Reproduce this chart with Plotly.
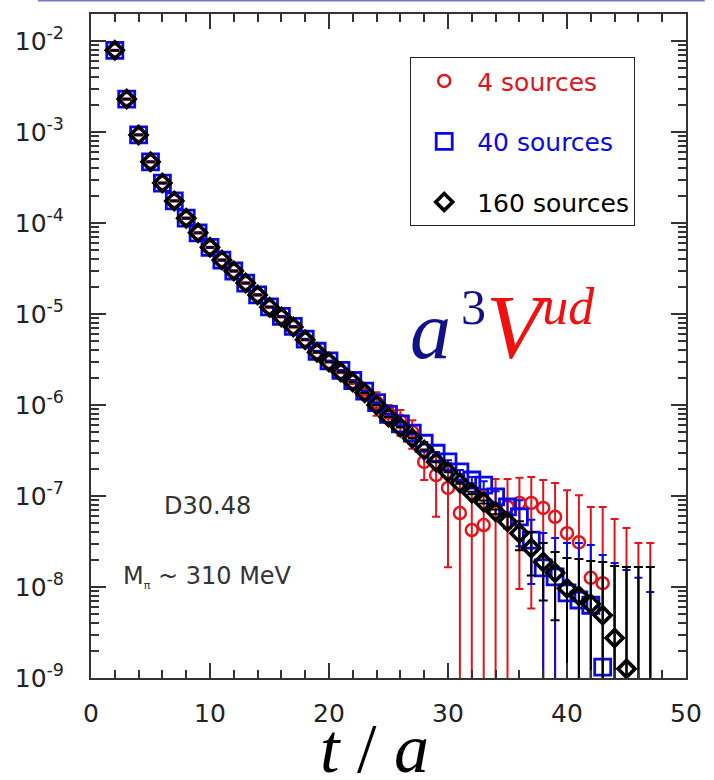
import plotly.graph_objects as go

# ---------------- data ----------------
t_vals = list(range(2, 48))

black_y = [7.9e-3, 2.3e-3, 9.3e-4, 4.7e-4, 2.75e-4, 1.75e-4, 1.13e-4, 7.8e-5, 5.4e-5,
           3.92e-5, 2.97e-5, 2.19e-5, 1.62e-5, 1.19e-5, 9.3e-6, 7.2e-6, 5.2e-6, 3.8e-6,
           2.97e-6, 2.31e-6, 1.79e-6, 1.36e-6, 1.0e-6, 7.4e-7, 5.7e-7, 4.3e-7, 3.2e-7,
           2.36e-7, 1.84e-7, 1.39e-7, 1.08e-7, 8.6e-8, 6.7e-8, 5.2e-8, 3.9e-8, 2.68e-8,
           1.88e-8, 1.43e-8, 9.7e-9, 8.0e-9, 6.5e-9, 4.9e-9, 2.75e-9, 1.26e-9, 5e-10, 5e-10]
black_err = [4e-5, 1.2e-5, 4.6e-6, 2.4e-6, 1.4e-6, 9e-7, 6e-7, 4e-7, 2.7e-7,
             2e-7, 1.5e-7, 1.1e-7, 8e-8, 6e-8, 4.7e-8, 3.6e-8, 2.6e-8, 1.9e-8,
             1.5e-8, 1.2e-8, 9e-9, 7e-9, 5e-9, 4e-9, 3e-9, 2.2e-9, 1.6e-9,
             1.2e-9, 1.5e-9, 2.8e-9, 3.2e-9, 3.4e-9, 4e-9, 7.8e-9, 1.37e-8, 1.34e-8,
             1.17e-8, 1.0e-8, 1.11e-8, 1.23e-8, 1.28e-8, 1.39e-8, 1.43e-8, 1.53e-8, 1.61e-8, 1.61e-8]

blue_y = [7.9e-3, 2.3e-3, 9.3e-4, 4.7e-4, 2.75e-4, 1.75e-4, 1.13e-4, 7.8e-5, 5.4e-5,
          3.92e-5, 2.97e-5, 2.19e-5, 1.62e-5, 1.2e-5, 9.4e-6, 7.3e-6, 5.3e-6, 3.9e-6,
          3.05e-6, 2.4e-6, 1.86e-6, 1.42e-6, 1.06e-6, 7.9e-7, 6.2e-7, 4.9e-7, 3.8e-7,
          2.95e-7, 2.37e-7, 1.84e-7, 1.5e-7, 1.32e-7, 9.8e-8, 7.6e-8, 5.9e-8, 3.28e-8,
          1.62e-8, 1.29e-8, 8.6e-9, 7.2e-9, 6.3e-9, 1.32e-9, 5e-10, 5e-10, 5e-10, 5e-10]
blue_err = [8e-5, 2.3e-5, 9e-6, 4.7e-6, 2.8e-6, 1.8e-6, 1.1e-6, 8e-7, 5.4e-7,
            4e-7, 3e-7, 2.2e-7, 1.6e-7, 1.2e-7, 9.4e-8, 7.3e-8, 5.3e-8, 3.9e-8,
            3e-8, 2.4e-8, 1.9e-8, 1.4e-8, 1.1e-8, 8e-9, 1.9e-8, 1.5e-8, 1.1e-8,
            9e-9, 9.5e-9, 9.2e-9, 1.2e-8, 1.3e-8, 1.5e-8, 1.5e-8, 3.1e-8, 2.2e-8,
            2.3e-8, 2.16e-8, 2.19e-8, 2.33e-8, 2.27e-8, 2.12e-8, 1.79e-8, 1.49e-8, 1.21e-8, 8.3e-9]

red_y = [7.9e-3, 2.3e-3, 9.3e-4, 4.7e-4, 2.75e-4, 1.75e-4, 1.13e-4, 7.8e-5, 5.4e-5,
         3.92e-5, 2.97e-5, 2.19e-5, 1.62e-5, 1.19e-5, 9.3e-6, 7.2e-6, 5.2e-6, 3.8e-6,
         2.97e-6, 2.31e-6, 1.79e-6, 1.40e-6, 1.07e-6, 8.2e-7, 6.7e-7, 5.05e-7, 2.37e-7,
         1.7e-7, 1.225e-7, 6.5e-8, 4.23e-8, 4.8e-8, 6.7e-8, 7.6e-8, 8.4e-8, 8.4e-8,
         7.4e-8, 5.9e-8, 3.9e-8, 3.1e-8, 1.26e-8, 1.1e-8, 5e-10, 5e-10, 5e-10, 5e-10]
red_err = [1.2e-4, 3.5e-5, 1.4e-5, 7e-6, 4e-6, 2.6e-6, 1.7e-6, 1.2e-6, 8e-7,
           6e-7, 4.5e-7, 3.3e-7, 2.4e-7, 1.8e-7, 1.4e-7, 1.1e-7, 8e-8, 6e-8,
           4.5e-8, 7e-8, 9e-8, 1.1e-7, 3.1e-7, 1.8e-7, 2.1e-7, 1.75e-7, 8.7e-8,
           1.11e-7, 1.06e-7, 7.8e-8, 6.3e-8, 6.7e-8, 8.7e-8, 7.8e-8, 7.45e-8, 7.82e-8,
           7.6e-8, 8.0e-8, 7.7e-8, 7.1e-8, 6.3e-8, 6.46e-8, 5.53e-8, 4.4e-8, 3.0e-8, 3.0e-8]

series_names = ["4 sources", "40 sources", "160 sources"]
x_ticks = [0, 10, 20, 30, 40, 50]
y_exponents = [-9, -8, -7, -6, -5, -4, -3, -2]

RED = "#e3141c"
BLUE = "#0a0ae6"
BLACK = "#000000"

fig = go.Figure()

fig.add_trace(go.Scatter(
    x=t_vals, y=red_y, mode="markers",
    name=f"<span style='color:{RED}'>{series_names[0]}</span>", legendgroup="a",
    marker=dict(symbol="circle-open", size=12, color=RED, line=dict(width=2.5, color=RED)),
    error_y=dict(type="data", array=red_err, visible=True, color=RED, thickness=2, width=4),
))
fig.add_trace(go.Scatter(
    x=t_vals, y=blue_y, mode="markers",
    name=f"<span style='color:{BLUE}'>{series_names[1]}</span>", legendgroup="b",
    marker=dict(symbol="square-open", size=16, color=BLUE, line=dict(width=2.8, color=BLUE)),
    error_y=dict(type="data", array=blue_err, visible=True, color=BLUE, thickness=2, width=4),
))
fig.add_trace(go.Scatter(
    x=t_vals, y=black_y, mode="markers",
    name=f"<span style='color:{BLACK}'>{series_names[2]}</span>", legendgroup="c",
    marker=dict(symbol="diamond-open", size=13, color=BLACK, line=dict(width=3.6, color=BLACK)),
    error_y=dict(type="data", array=black_err, visible=True, color=BLACK, thickness=2, width=4.5),
))

minor_y = [m * 10.0 ** e for e in range(-9, -1) for m in range(2, 10)]

axis_common = dict(
    showline=True, linewidth=2, linecolor="#333333", mirror="allticks",
    ticks="inside", ticklen=15, tickwidth=1.5, tickcolor="#333333",
    showgrid=False, zeroline=False,
)

fig.update_layout(
    width=714, height=780,
    margin=dict(l=91, r=19, t=14, b=102),
    paper_bgcolor="white", plot_bgcolor="white",
    xaxis=dict(range=[0, 50], tickmode="array", tickvals=x_ticks,
               ticktext=[str(v) for v in x_ticks],
               tickfont=dict(family="DejaVu Sans", size=25, color="#222222"),
               minor=dict(tick0=0, dtick=2, ticks="inside", ticklen=8, tickwidth=1.5, tickcolor="#333333"),
               ticklabelstandoff=12, **axis_common),
    yaxis=dict(type="log", range=[-9, -1.703], tickmode="array",
               tickvals=[10.0 ** e for e in y_exponents],
               ticktext=[f"10<sup>{e}</sup>" for e in y_exponents],
               tickfont=dict(family="DejaVu Sans", size=25, color="#222222"),
               minor=dict(tickmode="array", tickvals=minor_y, ticks="inside", ticklen=8,
                          tickwidth=1.5, tickcolor="#333333"),
               ticklabelstandoff=20, **axis_common),
    legend=dict(x=0.5365, y=0.935, xanchor="left", yanchor="top",
                bgcolor="white", bordercolor="#222222", borderwidth=1,
                font=dict(family="DejaVu Sans", size=25, color="black"),
                traceorder="grouped", tracegroupgap=25, itemwidth=56),
    showlegend=True,
)

# top slide rule
fig.add_shape(type="line", xref="paper", yref="paper",
              x0=-0.0894, x1=1.0315, y0=1.0203, y1=1.0203,
              line=dict(color="#7878c8", width=2))

fig.add_annotation(
    xref="paper", yref="paper", x=0.533, y=0.528, xanchor="left", yanchor="middle",
    showarrow=False,
    text=("<span style='color:#121288'><i>a</i><sup><span style='font-size:50px'>\u20093</span></sup></span>"
          "<span style='color:#f01010'><i><span style='font-size:92px'>V</span></i>"
          "<sup><span style='font-size:52px'><i>ud</i></span></sup></span>"),
    font=dict(family="Liberation Serif", size=82),
)

fig.add_annotation(
    xref="paper", yref="paper", x=0.119, y=0.259, xanchor="left", yanchor="middle",
    showarrow=False, text="D30.48",
    font=dict(family="DejaVu Sans", size=24, color="#333333"),
)
fig.add_annotation(
    xref="paper", yref="paper", x=0.0497, y=0.152, xanchor="left", yanchor="middle",
    showarrow=False, text="M<sub><span style='font-size:11px'>π</span></sub> ~ 310 MeV",
    font=dict(family="DejaVu Sans", size=24, color="#333333"),
)
fig.add_annotation(
    xref="paper", yref="paper", x=0.476, y=-0.106, xanchor="center", yanchor="middle",
    showarrow=False, text="<i>t</i> / <i>a</i>",
    font=dict(family="Liberation Serif", size=70, color="black"),
)

fig.write_html("out.html")
